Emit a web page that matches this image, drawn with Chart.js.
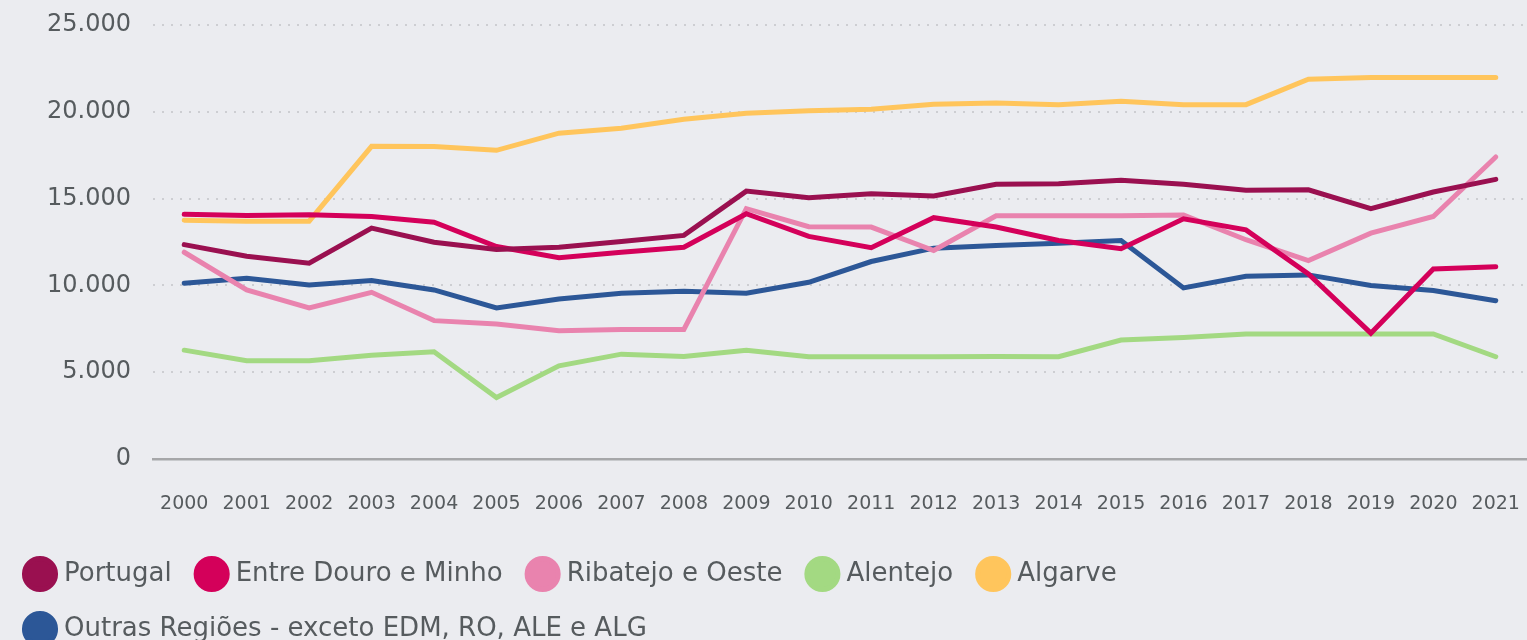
<!DOCTYPE html>
<html>
<head>
<meta charset="utf-8">
<script src="https://cdn.jsdelivr.net/npm/chart.js@4.4.1/dist/chart.umd.min.js"></script>
<style>
  html, body { margin: 0; padding: 0; background: #ebecf0; overflow: hidden; }
  #wrap { width: 1527px; height: 640px; }
</style>
</head>
<body>
<div id="wrap"><canvas id="linesChart"></canvas></div>
<script>
// years on the x axis
const years = ['2000','2001','2002','2003','2004','2005','2006','2007','2008','2009','2010',
  '2011','2012','2013','2014','2015','2016','2017','2018','2019','2020','2021'];

// values
const portugal = [12350,11680,11280,13300,12490,12070,12200,12530,12880,15430,15050,
  15280,15150,15820,15860,16050,15820,15480,15510,14420,15380,16110];
const entreDouroMinho = [14100,14030,14070,13970,13640,12240,11590,11910,12200,14130,12820,
  12170,13900,13360,12590,12110,13840,13200,10660,7250,10950,11080];
const ribatejoOeste = [11910,9740,8700,9600,7970,7780,7390,7460,7460,14420,13380,
  13360,12010,14010,14010,14010,14060,12630,11430,13010,13970,17400];
const alentejo = [6270,5660,5660,5980,6180,3540,5370,6040,5910,6270,5890,
  5890,5890,5900,5890,6850,7000,7200,7200,7200,7200,5890];
const algarve = [13760,13700,13700,18010,18000,17780,18770,19050,19570,19920,20060,
  20150,20440,20500,20410,20610,20410,20410,21880,21970,21970,21970];
const outrasRegioes = [10120,10410,10030,10280,9740,8700,9220,9545,9660,9545,10180,
  11375,12145,12300,12430,12590,9855,10525,10605,9990,9700,9120];

const seriesNames = ['Portugal','Entre Douro e Minho','Ribatejo e Oeste','Alentejo','Algarve',
  'Outras Regiões - exceto EDM, RO, ALE e ALG'];
const seriesValues = [portugal, entreDouroMinho, ribatejoOeste, alentejo, algarve, outrasRegioes];
const seriesColors = ['#9a1050','#d4005a','#e983ae','#a3d982','#ffc55c','#2c5797'];

const yTicks = [0, 5000, 10000, 15000, 20000, 25000];

const textColor = '#565b5e';
const fontFamily = "'DejaVu Sans', sans-serif";

// thousands separator with a dot
function fmt(v) {
  return String(v).replace(/\B(?=(\d{3})+(?!\d))/g, '.');
}

const data = {
  labels: years,
  datasets: seriesNames.map((name, i) => ({
    label: name,
    data: seriesValues[i],
    borderColor: seriesColors[i],
    backgroundColor: seriesColors[i],
    borderWidth: 5,
    borderCapStyle: 'round',
    pointRadius: 0,
    pointHoverRadius: 0,
    tension: 0,
    fill: false
  }))
};

const config = {
  type: 'line',
  data: data,
  options: {
    responsive: true,
    maintainAspectRatio: false,
    animation: false,
    layout: { padding: { top: 25, left: 0, right: 0, bottom: -12 } },
    plugins: {
      tooltip: { enabled: false },
      legend: {
        position: 'bottom',
        align: 'start',
        labels: {
          usePointStyle: true,
          pointStyle: 'circle',
          boxWidth: 22,
          boxHeight: 22,
          padding: 29,
          color: textColor,
          font: { family: fontFamily, size: 26 }
        }
      }
    },
    scales: {
      x: {
        offset: true,
        grid: {
          display: true,
          drawOnChartArea: false,
          drawTicks: true,
          tickLength: 34,
          color: 'rgba(0,0,0,0)',
          tickColor: 'rgba(0,0,0,0)'
        },
        border: { display: true, color: '#a6a7a9', width: 2.5 },
        ticks: {
          color: textColor,
          font: { family: fontFamily, size: 19 },
          padding: 0,
          maxRotation: 0,
          autoSkip: false
        },
        afterFit: s => { s.height = 73 }
      },
      y: {
        min: 0,
        max: 25000,
        afterBuildTicks: s => { s.ticks = yTicks.map(v => ({ value: v })) },
        grid: {
          color: '#cdced2',
          lineWidth: 2,
          drawTicks: true,
          tickLength: 22,
          tickColor: 'rgba(0,0,0,0)'
        },
        border: { display: false, dash: [2, 7] },
        ticks: {
          color: textColor,
          font: { family: fontFamily, size: 24 },
          padding: 0,
          callback: v => fmt(v)
        },
        afterFit: s => { s.width = 153 }
      }
    }
  }
};

const linesChart = new Chart(document.getElementById('linesChart').getContext('2d'), config);
</script>
</body>
</html>
